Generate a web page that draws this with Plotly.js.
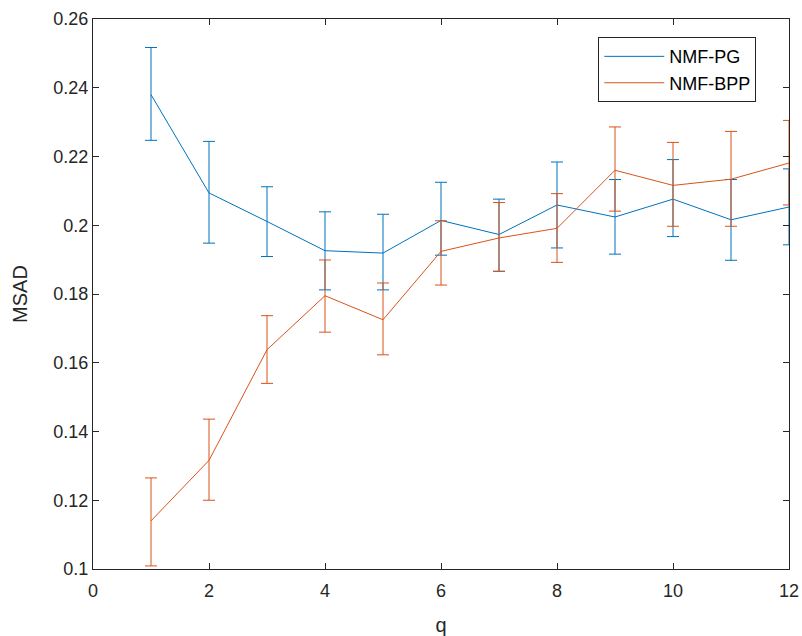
<!DOCTYPE html>
<html>
<head>
<meta charset="utf-8">
<script src="https://cdn.plot.ly/plotly-3.0.1.min.js"></script>
<style>html,body{margin:0;padding:0;background:#fff;}#chart{width:802px;height:636px;}</style>
</head>
<body>
<div id="chart"></div>
<script>
const q = [1, 2, 3, 4, 5, 6, 7, 8, 9, 10, 11, 12];
const pgMean  = [0.2380, 0.2094, 0.2011, 0.1926, 0.1919, 0.2014, 0.1973, 0.2059, 0.2024, 0.2076, 0.2016, 0.2053];
const pgUpper = [0.2517, 0.2244, 0.2112, 0.2039, 0.2032, 0.2125, 0.2076, 0.2184, 0.2133, 0.2191, 0.2133, 0.2164];
const pgLower = [0.2247, 0.1948, 0.1909, 0.1812, 0.1812, 0.1913, 0.1866, 0.1934, 0.1916, 0.1967, 0.1898, 0.1943];
const bppMean  = [0.1140, 0.1316, 0.1638, 0.1795, 0.1725, 0.1924, 0.1963, 0.1991, 0.2160, 0.2116, 0.2134, 0.2181];
const bppUpper = [0.1265, 0.1436, 0.1737, 0.1899, 0.1832, 0.2013, 0.2066, 0.2092, 0.2286, 0.2241, 0.2273, 0.2305];
const bppLower = [0.1009, 0.1200, 0.1540, 0.1689, 0.1623, 0.1826, 0.1866, 0.1892, 0.2041, 0.1997, 0.1997, 0.2059];
const yTicks = [0.1, 0.12, 0.14, 0.16, 0.18, 0.2, 0.22, 0.24, 0.26];
const xTicks = [0, 2, 4, 6, 8, 10, 12];

const plus = (u, m) => u.map((v, i) => v - m[i]);
const minus = (l, m) => l.map((v, i) => m[i] - v);

function series(name, mean, up, lo, color) {
  return {
    x: q, y: mean, name: name, type: 'scatter', mode: 'lines',
    line: {color: color, width: 1},
    error_y: {type: 'data', symmetric: false, array: plus(up, mean), arrayminus: minus(lo, mean),
              color: color, thickness: 1, width: 6}
  };
}

const data = [
  series('NMF-PG', pgMean, pgUpper, pgLower, '#0072BD'),
  series('NMF-BPP', bppMean, bppUpper, bppLower, '#D95319')
];

const FONT = 'Liberation Sans, Arial, sans-serif';
const axisCommon = {
  showgrid: false, zeroline: false, showline: true, mirror: 'ticks',
  linecolor: '#262626', linewidth: 1, ticks: 'inside', ticklen: 6, tickcolor: '#262626',
  tickfont: {family: FONT, size: 18, color: '#262626'}
};

const layout = {
  width: 802, height: 636,
  margin: {l: 93, r: 13, t: 19, b: 67},
  paper_bgcolor: '#fff', plot_bgcolor: '#fff',
  showlegend: true,
  legend: {x: 0.726, y: 0.967, xanchor: 'left', yanchor: 'top', bgcolor: '#fff',
           bordercolor: '#262626', borderwidth: 1, tracegroupgap: 0, itemwidth: 60,
           font: {family: FONT, size: 18, color: '#000'}},
  xaxis: Object.assign({}, axisCommon, {range: [0, 12], tickvals: xTicks, ticklabelstandoff: 5,
    title: {text: 'q', font: {family: FONT, size: 20, color: '#262626'}, standoff: 18}}),
  yaxis: Object.assign({}, axisCommon, {range: [0.1, 0.26], tickvals: yTicks,
    title: {text: 'MSAD', font: {family: FONT, size: 20, color: '#262626'}, standoff: 20}})
};

Plotly.newPlot('chart', data, layout, {displayModeBar: false, staticPlot: true});
</script>
</body>
</html>
